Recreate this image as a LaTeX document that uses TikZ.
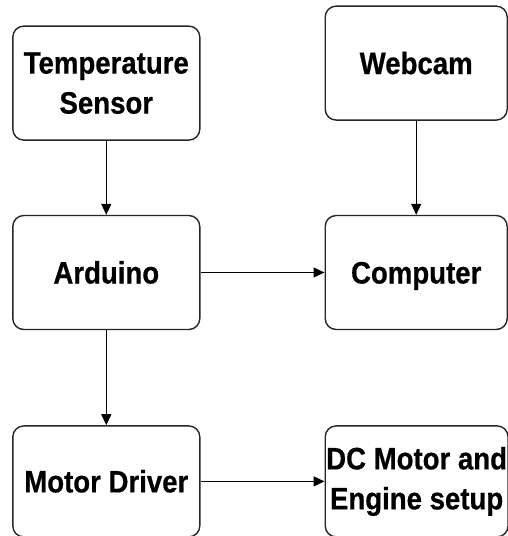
\documentclass[tikz,border=0pt]{standalone}
\usepackage{fontspec}
\setmainfont{Liberation Sans}[FakeStretch=0.89, BoldFeatures={FakeBold=0.6}]
\usepackage{tikz}
\usetikzlibrary{positioning,arrows.meta}

\begin{document}
\begin{tikzpicture}[
  blk/.style={draw=black!85, line width=1.4pt, rounded corners=11pt,
    minimum width=187pt, minimum height=114pt, align=center,
    font=\fontsize{31}{40}\selectfont\bfseries, inner sep=1pt},
  blkr/.style={blk, minimum width=182pt},
  one/.style={text height=22pt, text depth=0pt},
  >={Triangle[length=11pt,width=10pt]}, line width=1.3pt
]
\useasboundingbox (0,0) rectangle (507pt,-536pt);
\node[blk, one] (ard) at (106.3pt,-272.5pt) {Arduino};
\node[blk, above=74pt of ard] (temp) {Temperature\\Sensor};
\node[blk, one, below=95pt of ard, minimum height=111pt] (mdrv) {Motor Driver};
\node[blkr, one, right=124pt of ard] (comp) {Computer};
\node[blkr, one, above=94pt of comp] (cam) {Webcam};
\node[blkr, right=124pt of mdrv, minimum height=111pt] (dcm) {DC Motor and\\Engine setup};

\draw[->] (temp) -- (ard);
\draw[->] (cam) -- (comp);
\draw[->] (ard) -- (comp);
\draw[->] (ard) -- (mdrv);
\draw[->] (mdrv) -- (dcm);
\end{tikzpicture}
\end{document}
